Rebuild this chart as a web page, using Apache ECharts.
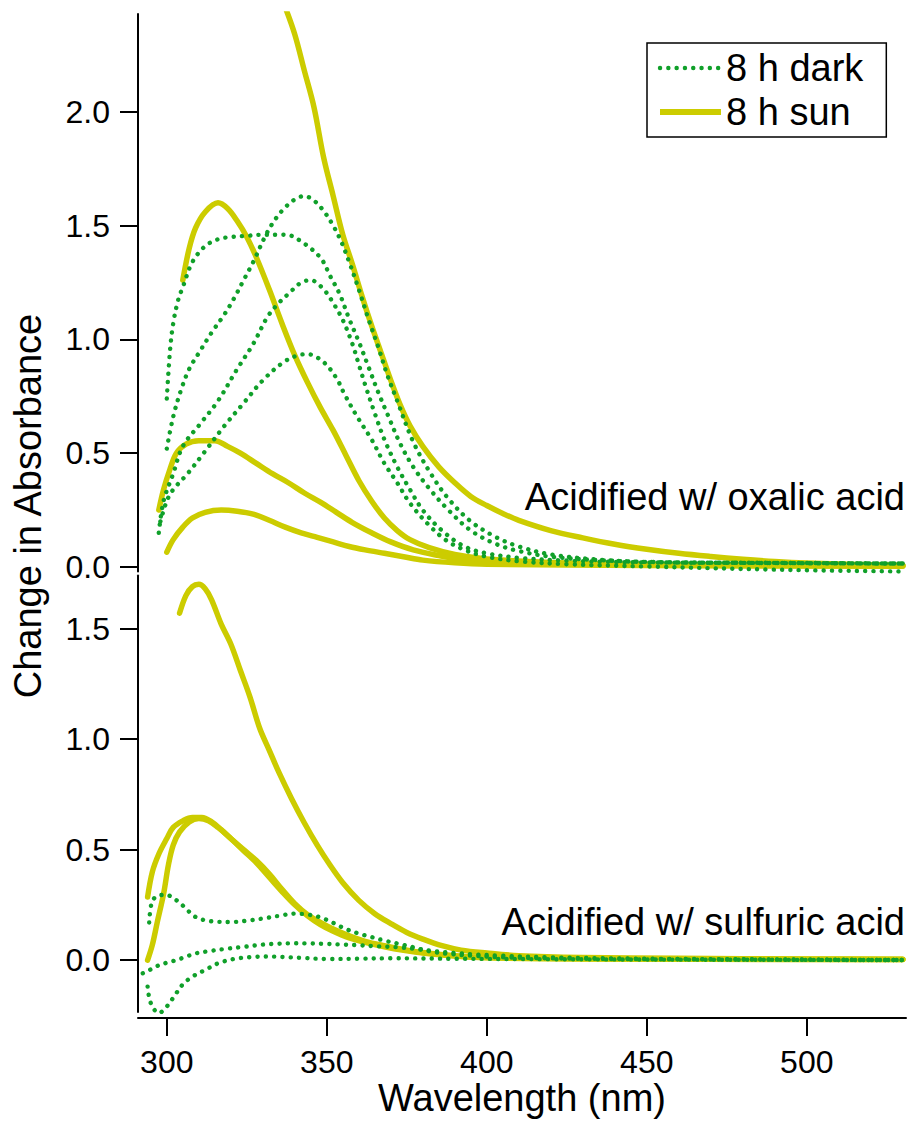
<!DOCTYPE html>
<html>
<head>
<meta charset="utf-8">
<script src="https://cdn.jsdelivr.net/npm/echarts@6.0.0/dist/echarts.min.js"></script>
<style>
  html, body { margin: 0; padding: 0; background: #fff; }
  #chart { width: 913px; height: 1130px; }
</style>
</head>
<body>
<div id="chart"></div>
<script>
// tick labels
const wavelengthTicks = [300, 350, 400, 450, 500];
const oxalicTicks = [0, 0.5, 1.0, 1.5, 2.0];
const sulfuricTicks = [0, 0.5, 1.0, 1.5];

// --- top panel: acidified w/ oxalic acid ---  [wavelength nm, change in absorbance]
const oxalicSun1 = [[337, 2.46], [340, 2.34], [343, 2.18], [346, 2.02], [349, 1.80], [352, 1.63], [355, 1.46], [358, 1.33], [361, 1.19], [364, 1.06], [367, 0.94], [370, 0.82], [373, 0.71], [376, 0.62], [380, 0.53], [385, 0.44], [390, 0.37], [395, 0.31], [400, 0.27], [405, 0.235], [410, 0.205], [420, 0.16], [430, 0.128], [440, 0.10], [450, 0.078], [460, 0.06], [470, 0.046], [480, 0.034], [490, 0.024], [500, 0.017], [515, 0.011], [530, 0.008]];
const oxalicSun2 = [[305, 1.26], [307, 1.40], [309, 1.49], [312, 1.56], [316, 1.60], [319, 1.575], [322, 1.52], [325, 1.45], [328, 1.36], [332, 1.22], [336, 1.07], [340, 0.93], [344, 0.81], [348, 0.70], [352, 0.60], [356, 0.49], [360, 0.38], [364, 0.29], [368, 0.215], [372, 0.16], [376, 0.12], [382, 0.085], [390, 0.055], [400, 0.035], [420, 0.02], [450, 0.012], [490, 0.008], [530, 0.005]];
const oxalicSun3 = [[297.5, 0.25], [299, 0.34], [301, 0.43], [303, 0.50], [306, 0.54], [310, 0.555], [315, 0.555], [319, 0.53], [323, 0.50], [328, 0.455], [333, 0.41], [338, 0.37], [343, 0.325], [348, 0.285], [353, 0.24], [358, 0.195], [364, 0.15], [370, 0.11], [377, 0.075], [385, 0.05], [393, 0.03], [405, 0.02], [430, 0.012], [480, 0.008], [530, 0.005]];
const oxalicSun4 = [[300, 0.065], [302, 0.12], [305, 0.175], [308, 0.215], [312, 0.24], [317, 0.25], [322, 0.245], [327, 0.232], [332, 0.205], [337, 0.175], [342, 0.15], [347, 0.13], [352, 0.11], [357, 0.09], [362, 0.075], [368, 0.06], [374, 0.045], [380, 0.03], [390, 0.018], [400, 0.012], [450, 0.006], [530, 0.003]];
const oxalicDark1 = [[300, 0.52], [302, 0.66], [304.5, 0.78], [307, 0.87], [310, 0.94], [314, 1.03], [318, 1.11], [321, 1.18], [324, 1.26], [327, 1.34], [331, 1.46], [334, 1.53], [337, 1.58], [340, 1.615], [343, 1.63], [346, 1.61], [349, 1.565], [352, 1.50], [354.5, 1.43], [357, 1.34], [360, 1.22], [363, 1.09], [366, 0.97], [369, 0.84], [372, 0.73], [377, 0.55], [382.5, 0.41], [388, 0.30], [395, 0.20], [403, 0.13], [410, 0.09], [420, 0.055], [435, 0.032], [450, 0.022], [480, 0.018], [530, 0.015]];
const oxalicDark2 = [[300, 0.74], [301, 0.95], [302, 1.07], [303.5, 1.17], [305, 1.23], [308, 1.34], [312, 1.41], [316, 1.44], [320, 1.45], [325, 1.455], [330, 1.46], [335, 1.46], [339, 1.455], [342, 1.43], [345, 1.40], [348.5, 1.35], [351, 1.28], [354, 1.20], [357, 1.09], [360, 0.99], [363, 0.88], [366, 0.77], [369, 0.67], [373, 0.54], [377, 0.44], [382, 0.345], [388, 0.25], [395, 0.16], [403, 0.10], [410, 0.07], [420, 0.045], [435, 0.03], [450, 0.022], [480, 0.018], [530, 0.015]];
const oxalicDark3 = [[297.5, 0.15], [299, 0.29], [302, 0.41], [305, 0.53], [310.5, 0.63], [316, 0.73], [322, 0.87], [327, 0.98], [331.5, 1.10], [335, 1.16], [338, 1.20], [342, 1.25], [345, 1.26], [349, 1.22], [352, 1.16], [355, 1.085], [358, 0.98], [360, 0.89], [362, 0.80], [365, 0.675], [368, 0.56], [372, 0.44], [376, 0.34], [380, 0.25], [386, 0.16], [393, 0.09], [400, 0.06], [410, 0.04], [425, 0.028], [450, 0.02], [490, 0.018], [530, 0.015]];
const oxalicDark4 = [[298, 0.2], [300, 0.29], [302, 0.34], [306.5, 0.41], [311.5, 0.50], [318, 0.62], [324, 0.72], [330, 0.82], [336.5, 0.90], [341, 0.93], [344, 0.935], [349, 0.90], [353, 0.83], [355.5, 0.76], [359.5, 0.66], [364, 0.56], [368, 0.455], [372, 0.37], [376, 0.28], [381.5, 0.19], [387, 0.12], [393, 0.075], [400, 0.045], [410, 0.025], [425, 0.012], [450, 0.002], [490, -0.012], [530, -0.02]];

// --- bottom panel: acidified w/ sulfuric acid ---
const sulfuricSun1 = [[304, 1.57], [306, 1.65], [308, 1.69], [310, 1.70], [312, 1.68], [314, 1.63], [317, 1.52], [320, 1.43], [323, 1.31], [326, 1.19], [329, 1.05], [332, 0.95], [335, 0.85], [339, 0.73], [343, 0.62], [347, 0.52], [351, 0.43], [355, 0.35], [360, 0.27], [365, 0.21], [370, 0.165], [375, 0.125], [380, 0.095], [386, 0.065], [392, 0.045], [400, 0.032], [410, 0.02], [430, 0.012], [460, 0.008], [500, 0.005], [530, 0.004]];
const sulfuricSun2 = [[294, 0.285], [295.5, 0.40], [297.5, 0.48], [300, 0.55], [302, 0.60], [305, 0.63], [308, 0.645], [311, 0.645], [314, 0.625], [317, 0.59], [320, 0.55], [324, 0.50], [328, 0.45], [332, 0.39], [336, 0.32], [340, 0.255], [344, 0.205], [348, 0.17], [352, 0.14], [357, 0.11], [362, 0.085], [368, 0.065], [374, 0.048], [380, 0.034], [390, 0.02], [400, 0.012], [430, 0.006], [530, 0.003]];
const sulfuricSun3 = [[294, 0.0], [295.5, 0.07], [297, 0.17], [299, 0.30], [300.5, 0.43], [302, 0.52], [304, 0.58], [307, 0.625], [310, 0.64], [313, 0.63], [316, 0.60], [320, 0.55], [324, 0.495], [328, 0.44], [332, 0.375], [336, 0.31], [340, 0.25], [344, 0.2], [348, 0.16], [352, 0.13], [357, 0.10], [362, 0.08], [368, 0.06], [374, 0.044], [380, 0.032], [390, 0.018], [400, 0.01], [430, 0.005], [530, 0.002]];
const sulfuricDark1 = [[294.5, 0.17], [295.3, 0.26], [297, 0.29], [300, 0.295], [302, 0.28], [304, 0.26], [306.5, 0.225], [309, 0.195], [312, 0.18], [316, 0.173], [320, 0.172], [325, 0.178], [330, 0.188], [335, 0.2], [340, 0.21], [344, 0.206], [348, 0.193], [352, 0.168], [356, 0.14], [360, 0.12], [364, 0.104], [368, 0.088], [372, 0.075], [377, 0.058], [382, 0.04], [388, 0.028], [395, 0.02], [405, 0.012], [430, 0.006], [470, 0.003], [530, 0.0]];
const sulfuricDark2 = [[292.5, -0.06], [294, -0.05], [296.5, -0.03], [300, -0.012], [303, 0.0], [306, 0.015], [309, 0.03], [313, 0.04], [318, 0.05], [324, 0.06], [330, 0.07], [335, 0.074], [340, 0.076], [345, 0.075], [350, 0.073], [355, 0.07], [360, 0.067], [366, 0.062], [372, 0.058], [378, 0.05], [384, 0.04], [390, 0.032], [397, 0.025], [404, 0.02], [420, 0.012], [450, 0.006], [490, 0.003], [530, 0.0]];
const sulfuricDark3 = [[294, -0.12], [295, -0.195], [297.5, -0.24], [300, -0.21], [302.5, -0.16], [305, -0.11], [308, -0.075], [312, -0.045], [316, -0.015], [321, 0.005], [326, 0.013], [331, 0.016], [336, 0.014], [342, 0.01], [350, 0.005], [360, 0.006], [370, 0.008], [390, 0.006], [420, 0.004], [460, 0.002], [530, 0.0]];

const SUN = '#cccc00';
const DARK = '#10a02a';
const FONT = '"Liberation Sans", Arial, Helvetica, sans-serif';

const SUN_LINE = { color: SUN, width: 5.5, cap: 'round', join: 'round' };
const DARK_LINE = { color: DARK, width: 4.4, type: [0.1, 8.2], cap: 'round' };

const chart = echarts.init(document.getElementById('chart'), null, { renderer: 'svg' });

const sunLine = (data, idx) => ({
  name: '8 h sun', type: 'line', xAxisIndex: idx, yAxisIndex: idx, data,
  symbol: 'none', showSymbol: false, smooth: 0.35, silent: true, z: 2,
  lineStyle: SUN_LINE, itemStyle: { color: SUN }
});
const darkLine = (data, idx) => ({
  name: '8 h dark', type: 'line', xAxisIndex: idx, yAxisIndex: idx, data,
  symbol: 'none', showSymbol: false, smooth: 0.35, silent: true, z: 3,
  lineStyle: DARK_LINE, itemStyle: { color: DARK }
});

const yAxisBase = (ticks) => ({
  type: 'value',
  axisLine: { show: true, onZero: false, lineStyle: { color: '#000', width: 2 } },
  axisTick: { show: true, inside: false, length: 18, lineStyle: { color: '#000', width: 2 }, customValues: ticks },
  axisLabel: { color: '#000', fontSize: 32, fontFamily: FONT, margin: 28, formatter: v => v.toFixed(1), customValues: ticks },
  splitLine: { show: false }
});

const option = {
  animation: false,
  backgroundColor: '#fff',
  grid: [
    { left: 138, width: 768, top: 14, height: 557.5 },
    { left: 138, width: 768, top: 575.5, height: 436.5 }
  ],
  xAxis: [
    { type: 'value', gridIndex: 0, min: 291, max: 531, show: false },
    {
      type: 'value', gridIndex: 1, min: 291, max: 531, offset: 6,
      name: 'Wavelength (nm)', nameLocation: 'middle', nameGap: 60,
      nameTextStyle: { color: '#000', fontSize: 38, fontFamily: FONT },
      axisLine: { show: true, onZero: false, lineStyle: { color: '#000', width: 2 } },
      axisTick: { show: true, length: 18, lineStyle: { color: '#000', width: 2 }, customValues: wavelengthTicks },
      axisLabel: { color: '#000', fontSize: 32, fontFamily: FONT, margin: 28, customValues: wavelengthTicks },
      splitLine: { show: false }
    }
  ],
  yAxis: [
    Object.assign(yAxisBase(oxalicTicks), { gridIndex: 0, min: -0.02, max: 2.43 }),
    Object.assign(yAxisBase(sulfuricTicks), { gridIndex: 1, min: -0.235, max: 1.74 })
  ],
  legend: {
    data: [
      { name: '8 h dark', itemStyle: { opacity: 0 }, lineStyle: DARK_LINE },
      { name: '8 h sun', itemStyle: { opacity: 0 }, lineStyle: Object.assign({}, SUN_LINE, { width: 6, cap: 'butt' }) }
    ],
    orient: 'vertical', left: 647, top: 43,
    padding: [6, 23, 6, 10], itemWidth: 61, itemHeight: 36, itemGap: 6,
    borderColor: '#000', borderWidth: 1.5, borderRadius: 0,
    selectedMode: false,
    textStyle: { color: '#000', fontSize: 38, fontFamily: FONT }
  },
  graphic: [
    {
      type: 'text', x: 28, y: 506, rotation: Math.PI / 2,
      style: { text: 'Change in Absorbance', fill: '#000', fontSize: 38, fontFamily: FONT, align: 'center', verticalAlign: 'middle' }
    },
    {
      type: 'text', x: 905, y: 497,
      style: { text: 'Acidified w/ oxalic acid', fill: '#000', fontSize: 38, fontFamily: FONT, align: 'right', verticalAlign: 'middle' }
    },
    {
      type: 'text', x: 905, y: 922,
      style: { text: 'Acidified w/ sulfuric acid', fill: '#000', fontSize: 38, fontFamily: FONT, align: 'right', verticalAlign: 'middle' }
    }
  ],
  series: [
    sunLine(oxalicSun1, 0), sunLine(oxalicSun2, 0), sunLine(oxalicSun3, 0), sunLine(oxalicSun4, 0),
    darkLine(oxalicDark1, 0), darkLine(oxalicDark2, 0), darkLine(oxalicDark3, 0), darkLine(oxalicDark4, 0),
    sunLine(sulfuricSun1, 1), sunLine(sulfuricSun2, 1), sunLine(sulfuricSun3, 1),
    darkLine(sulfuricDark1, 1), darkLine(sulfuricDark2, 1), darkLine(sulfuricDark3, 1)
  ]
};

chart.setOption(option);
</script>
</body>
</html>
